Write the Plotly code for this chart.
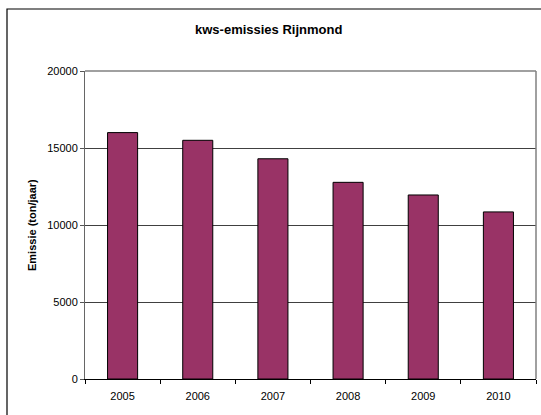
import plotly.graph_objects as go

# Annual emissions in Rijnmond (ton/jaar)
years = ["2005", "2006", "2007", "2008", "2009", "2010"]
emissions = [16000, 15500, 14300, 12770, 11950, 10850]
y_ticks = [0, 5000, 10000, 15000, 20000]
y_tick_labels = ["0", "5000", "10000", "15000", "20000"]

W, H = 541, 415
L, R, T, B = 85, 536, 71, 379  # plot area in pixels

fig = go.Figure(
    go.Bar(
        x=years,
        y=emissions,
        width=0.4,
        marker=dict(color="#993366", line=dict(color="#000000", width=1)),
    )
)

font = "Liberation Sans, Arial, sans-serif"


def px_x(p):
    return (p - L) / (R - L)


def px_y(p):
    return (B - p) / (B - T)


fig.update_layout(
    width=W,
    height=H,
    margin=dict(l=L, r=W - R, t=T, b=H - B),
    paper_bgcolor="white",
    plot_bgcolor="white",
    showlegend=False,
    font=dict(family=font, size=11, color="#000000"),
    xaxis=dict(
        type="category",
        range=[-0.5, 5.5],
        tickson="boundaries",
        ticks="outside",
        ticklen=4,
        tickcolor="#000000",
        ticklabelstandoff=7,
        showline=True,
        linecolor="#000000",
        linewidth=1,
        showgrid=False,
        tickfont=dict(size=11),
    ),
    yaxis=dict(
        range=[0, 20000],
        tickvals=y_ticks,
        ticktext=y_tick_labels,
        ticks="outside",
        ticklen=4,
        tickcolor="#555555",
        showline=True,
        linecolor="#666666",
        linewidth=1,
        showgrid=True,
        gridcolor="#404040",
        gridwidth=1,
        zeroline=False,
        tickfont=dict(size=11),
    ),
    shapes=[
        # outer chart frame
        dict(
            type="rect", xref="paper", yref="paper",
            x0=px_x(7), x1=px_x(560), y0=px_y(440), y1=px_y(9),
            line=dict(color="#000000", width=1.2), fillcolor="rgba(0,0,0,0)",
            layer="above",
        ),
        # plot-area border (top and right)
        dict(
            type="line", xref="paper", yref="paper",
            x0=0, x1=1, y0=1, y1=1,
            line=dict(color="#808080", width=1.5),
        ),
        dict(
            type="line", xref="paper", yref="paper",
            x0=1, x1=1, y0=0, y1=1,
            line=dict(color="#808080", width=1.5),
        ),
    ],
    annotations=[
        dict(
            text="<b>kws-emissies Rijnmond</b>",
            xref="paper", yref="paper",
            x=px_x(268), y=px_y(30),
            xanchor="center", yanchor="middle",
            showarrow=False,
            font=dict(size=13, family=font),
        ),
        dict(
            text="<b>Emissie (ton/jaar)</b>",
            xref="paper", yref="paper",
            x=px_x(32), y=0.5,
            xanchor="center", yanchor="middle",
            textangle=-90,
            showarrow=False,
            font=dict(size=11, family=font),
        ),
    ],
)

fig.write_html("out.html")
